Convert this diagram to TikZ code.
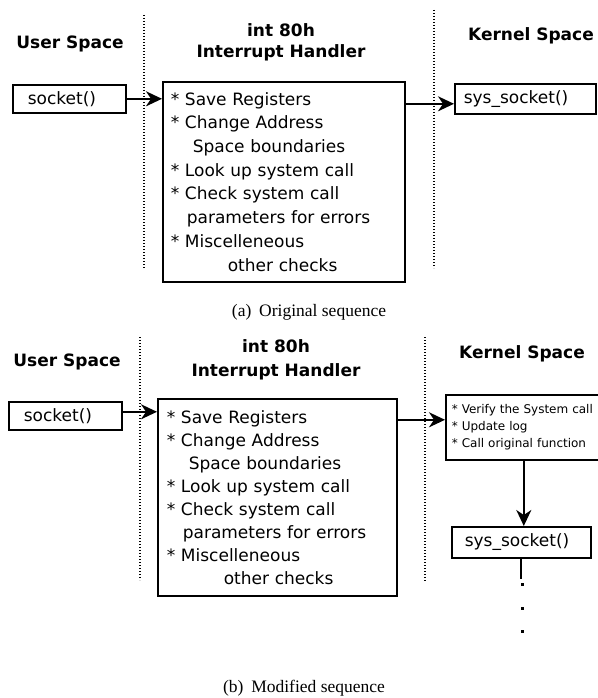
\documentclass[tikz,border=0pt]{standalone}
\usepackage{fontspec}
\setmainfont{DejaVu Sans}
\newfontfamily\capfont{Liberation Serif}
\usetikzlibrary{arrows.meta,calc}
\begin{document}
\begin{tikzpicture}[x=1pt,y=-1pt,
  box/.style={draw,line width=1.6pt,inner ysep=0pt,align=left,anchor=north west,font=\fontsize{17}{20}\selectfont},
  hbox/.style={draw,line width=1.6pt,inner ysep=0pt,align=left,anchor=north west},
  title/.style={align=center},
  sep/.style={line width=1.3pt,dash pattern=on 1.4pt off 1.6pt},
  arr/.style={line width=1.8pt,-{Stealth[length=16pt,width=15pt,inset=5pt]}},
  captext/.style={font=\capfont\fontsize{17.5}{20}\selectfont},
  dotsq/.style={fill,inner sep=0pt,minimum size=3pt,rectangle}]
\useasboundingbox (0,0) rectangle (597,698);
% ---------------- (a)
\node[title,font=\fontsize{17}{21}\selectfont\bfseries] (ua) at (70,44) {User Space};
\node[title,font=\fontsize{17}{21}\selectfont\bfseries] (ta) at (281,42) {int 80h\\Interrupt Handler};
\node[title,font=\fontsize{17}{21}\selectfont\bfseries] (kta) at (531,36) {Kernel Space};
\coordinate (la1) at (144,15); \coordinate (la2) at (144,268);
\coordinate (lb1) at (434,10); \coordinate (lb2) at (434,268);
\draw[sep] (la1) -- (la2);
\draw[sep] (lb1) -- (lb2);
\node[box,text width=83pt,inner xsep=15pt,minimum height=28pt] (sa) at (12,84) {socket()};
\node[hbox,font=\fontsize{17}{23.7}\selectfont,text width=226pt,inner xsep=8pt,minimum height=200pt] (ha) at (162,81)
 {{*} Save Registers\\
  {*} Change Address\\
  \hspace*{22pt}Space boundaries\\
  {*} Look up system call\\
  {*} Check system call\\
  \hspace*{16pt}parameters for errors\\
  {*} Miscelleneous\\
  \hspace*{57pt}other checks};
\node[box,text width=123pt,inner xsep=9pt,minimum height=30pt] (ka) at (454,83) {sys\_socket()};
\draw[arr] (sa.east) -- (sa.east -| ha.west);
\draw[arr] ($(ha.east |- ka.west)+(0,5)$) -- ($(ka.west)+(0,5)$);
\node[captext] (capa) at (309,312) {(a)\hspace{0.45em}Original sequence};
% ---------------- (b)
\node[title,font=\fontsize{17}{21}\selectfont\bfseries] (ub) at (67,362) {User Space};
\node[title,font=\fontsize{17}{24}\selectfont\bfseries] (tb) at (276,360) {int 80h\\Interrupt Handler};
\node[title,font=\fontsize{17}{21}\selectfont\bfseries] (ktb) at (522,354) {Kernel Space};
\coordinate (lc1) at (140,337); \coordinate (lc2) at (140,580);
\coordinate (ld1) at (425,337); \coordinate (ld2) at (425,582);
\draw[sep] (lc1) -- (lc2);
\draw[sep] (ld1) -- (ld2);
\node[box,text width=83pt,inner xsep=15pt,minimum height=28pt] (sb) at (8,401) {socket()};
\node[hbox,font=\fontsize{17}{23}\selectfont,text width=221pt,inner xsep=9pt,minimum height=197pt] (hb) at (157,398)
 {{*} Save Registers\\
  {*} Change Address\\
  \hspace*{22pt}Space boundaries\\
  {*} Look up system call\\
  {*} Check system call\\
  \hspace*{16pt}parameters for errors\\
  {*} Miscelleneous\\
  \hspace*{57pt}other checks};
\node[hbox,font=\fontsize{12}{17}\selectfont,text width=188pt,inner xsep=6pt,minimum height=65pt] (kb) at (445,394)
 {{*} Verify the System call\\
  {*} Update log\\
  {*} Call original function};
\node[box,text width=113pt,inner xsep=13pt,minimum height=31pt] (ssb) at (451,526) {sys\_socket()};
\draw[arr] ($(sb.east)+(0,-4)$) -- ($(sb.east -| hb.west)+(0,-4)$);
\draw[arr] ($(hb.east |- kb.west)+(0,-7.5)$) -- ($(kb.west)+(0,-7.5)$);
\draw[arr] ($(kb.south -| ssb.north)+(2.5,0)$) -- ($(ssb.north)+(2.5,0)$);
\coordinate (lend) at (521,579);
\draw[line width=1.6pt] (ssb.south -| lend) -- (lend);
\node[dotsq] (d1) at (522,584) {};
\node[dotsq] (d2) at (522,608) {};
\node[dotsq] (d3) at (522,631) {};
\node[captext] (capb) at (304,688) {(b)\hspace{0.45em}Modified sequence};
\end{tikzpicture}
\end{document}
